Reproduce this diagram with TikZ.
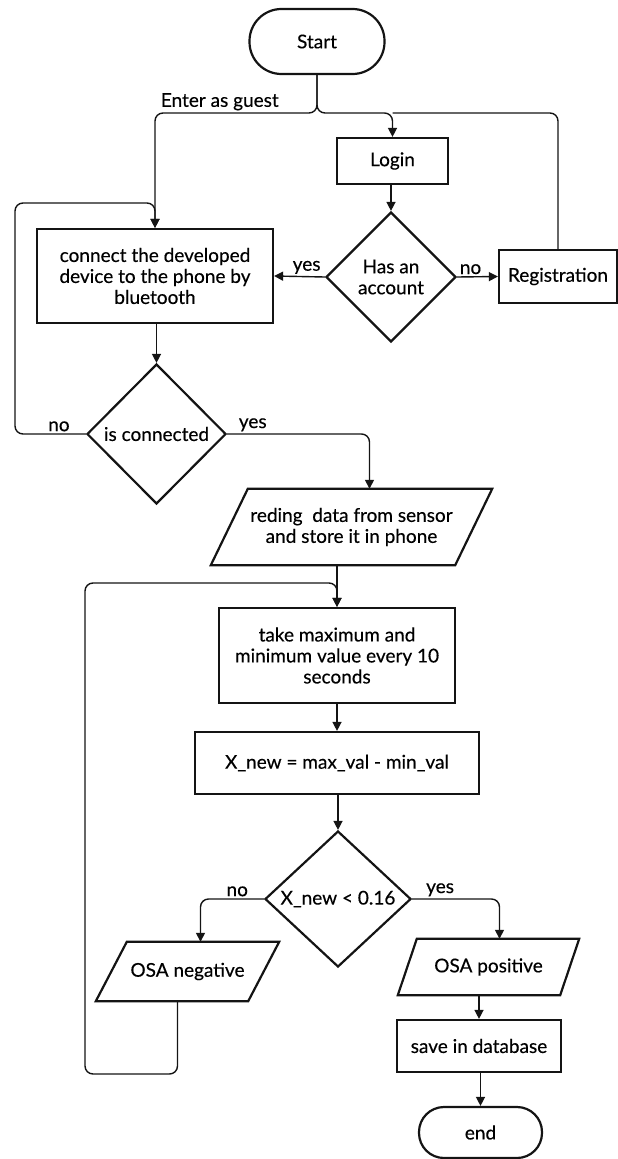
\documentclass[tikz,border=0pt]{standalone}
\usepackage{fontspec}
\setmainfont{Lato}[FakeBold=0.35]
\usepackage{tikz}
\usetikzlibrary{arrows.meta, shapes.geometric}
\definecolor{ink}{RGB}{20,20,20}
% slanted outline for an input/output node: name, horizontal slant
\newcommand{\ioframe}[2]{%
  \draw[box] ([xshift=#2]#1.north west) -- (#1.north east)
    -- ([xshift=-#2]#1.south east) -- (#1.south west) -- cycle;}

\begin{document}
\begin{tikzpicture}[
  x=1pt, y=-1pt,
  font=\fontsize{19}{21}\selectfont,
  box/.style={draw=ink, line width=2.2pt},
  term/.style={box, rounded corners=#1, align=center},
  term/.default=25pt,
  proc/.style={rectangle, box, align=center, inner sep=2pt},
  io/.style={rectangle, align=center, inner sep=0pt},
  dec/.style={diamond, box, align=center, inner sep=0pt},
  line/.style={draw=ink, line width=1.4pt, rounded corners=8pt},
  flow/.style={line, -{Triangle[length=9pt, width=9pt]}},
  tag/.style={above=1pt, inner sep=1pt}
]
  \useasboundingbox (0,0) rectangle (618,1159);

  % login part
  \node[term=32pt, minimum width=135pt, minimum height=65pt] (start) at (317,41.5) {Start};
  \node[proc, minimum width=111pt, minimum height=46pt] (login) at (392.5,161) {Login};
  \node[dec, minimum width=130pt, minimum height=130pt] (acct) at (391,277) {Has an\\account};
  \node[proc, minimum width=118pt, minimum height=53pt] (reg) at (558,276.5) {Registration};
  \node[proc, minimum width=236pt, minimum height=94pt] (connect) at (155,276)
    {connect the developed\\device to the phone by\\bluetooth};
  \node[dec, minimum width=139pt, minimum height=140pt] (isconn) at (156.5,434) {is connected};

  % measuring loop
  \node[io, minimum width=281pt, minimum height=76pt] (read) at (351.5,527)
    {reding~ data from sensor\\and store it in phone};
  \node[proc, minimum width=236pt, minimum height=95pt] (takemax) at (337,655.5)
    {take maximum and\\minimum value every 10\\seconds};
  \node[proc, minimum width=284pt, minimum height=62pt] (xnew) at (337,763) {X\_new = max\_val - min\_val};
  \node[dec, minimum width=146pt, minimum height=136pt] (test) at (338,899) {X\_new < 0.16};
  \node[io, minimum width=183pt, minimum height=59pt] (neg) at (187.5,971.5) {OSA negative};
  \node[io, minimum width=181pt, minimum height=56pt] (pos) at (488.5,967) {OSA positive};
  \node[proc, minimum width=164pt, minimum height=52pt] (save) at (479,1046) {save in database};
  \node[term, minimum width=123pt, minimum height=51pt] (finish) at (480.5,1132.5) {end};

  \ioframe{read}{37pt}
  \ioframe{neg}{31pt}
  \ioframe{pos}{19pt}

  \coordinate (split) at (317,113);
  \coordinate (retry) at (15,203);
  \coordinate (backlow) at (85,1074);
  \coordinate (backhigh) at (85,583);

  % straight arrows
  \foreach \a/\b in {login/acct,connect/isconn,read/takemax,takemax/xnew,xnew/test,pos/save,save/finish} {
    \draw[flow] (\a.south -| \b.north) -- (\b.north);
  }

  \draw[flow] (start.south) |- node[tag, pos=0.8] {Enter as guest} (connect.north |- split) -- (connect.north);
  \draw[flow] (start.south) |- (login.north |- split) -- (login.north);
  \draw[line] (reg.north) |- (login.north |- split);
  \draw[flow] (acct.west) -- node[tag, pos=0.36] {yes} (connect.east);
  \draw[flow] (acct.east) -- node[tag, pos=0.33] {no} (reg.west);
  \draw[flow] (isconn.west) -| node[tag, pos=0.19] {no} (retry) -| (connect.north);
  \draw[flow] (isconn.east) -| node[tag, pos=0.09] {yes} ([xshift=18pt]read.north);
  \draw[flow] (test.west) -| node[tag, pos=0.21] {no} ([xshift=13pt]neg.north);
  \draw[flow] (test.east) -| node[tag, pos=0.16] {yes} ([xshift=11pt]pos.north);
  \draw[flow] ([xshift=-10pt]neg.south) |- (backlow) -- (backhigh) -| (takemax.north);
\end{tikzpicture}
\end{document}
